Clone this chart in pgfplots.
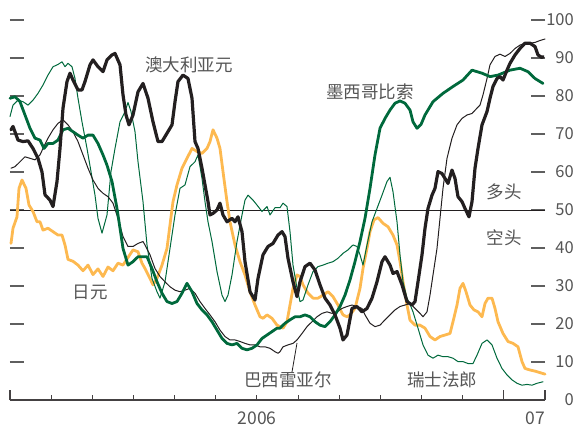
\documentclass[border=0pt]{standalone}
\usepackage{pgfplots}
\pgfplotsset{compat=1.18}
\usepackage{fontspec}
\setmainfont{Noto Sans CJK SC}
\definecolor{ecogreen}{RGB}{0,105,60}
\definecolor{ecoorange}{RGB}{253,185,80}
\definecolor{ecoblack}{RGB}{35,31,32}
\definecolor{txtgray}{RGB}{85,85,85}
\definecolor{tickgray}{RGB}{95,95,95}
\newcommand{\lbl}{\fontsize{17.5bp}{20bp}\selectfont\color{txtgray}}
\begin{document}
\begin{tikzpicture}
\useasboundingbox (-10bp,-25bp) rectangle (568bp,400bp);
\begin{axis}[
  at={(0,0)}, anchor=south west,
  scale only axis, width=535bp, height=380bp,
  xmin=10, xmax=545, ymin=0, ymax=100,
  axis line style={draw=none},
  xtick=\empty,
  ytick={0,10,...,100},
  ytick pos=both, yticklabel pos=right,
  tick align=inside,
  major tick length=14bp,
  ytick style={draw=tickgray, line width=1.3bp},
  yticklabel style={anchor=east, inner sep=0pt, xshift=29bp,
    font=\fontsize{16.5bp}{20bp}\selectfont, text=txtgray},
  /pgf/number format/assume math mode=true,
  clip=false,
  every axis plot/.append style={line join=round, line cap=round},
]
\draw[ecoblack, line width=0.9bp] (axis cs:10,50) -- (axis cs:545,50);

% Yen
\addplot[ecoorange, line width=2.8bp] coordinates {
(11,41.2)(13,45.2)(17,48.2)(19,55.7)(22,57.9)(26,55.7)(29,51.3)(33,49.6)(37,46.9)(40,46.9)(43,44.7)(48,45.2)(53,44.3)(58,43.4)(62,43.4)(65,40.8)(68,37)(73,36.5)(78,35.5)(83,34)(88,35.5)(93,33)(98,34.5)(103,32.5)(108,35)(113,34)(118,36)(123,35.5)(128,37.5)(133,39.5)(138,39)(142,36)(145,34.6)(150,32)(153,30.3)(157,32)(162,35.5)(167,39.9)(170,46.1)(173,52.2)(177,56.6)(182,61)(187,63.6)(192,66.2)(197,65.4)(202,64.9)(207,66.2)(210,68)(213,71.1)(217,68.9)(220,66.2)(223,60.1)(227,52.2)(230,46.9)(235,40.8)(240,36.4)(245,32.9)(250,28.5)(255,25)(260,21.9)(263,21.5)(267,22.4)(272,21.5)(277,19.7)(280,19.3)(283,18.9)(287,20.6)(290,25)(293,29.4)(297,32.9)(300,32.5)(303,30.3)(308,28.1)(313,26.8)(318,26.8)(323,27.6)(328,28.5)(333,27.2)(338,25)(343,22.4)(347,21.9)(350,22.4)(355,24.1)(360,29.4)(363,34.6)(367,39.9)(370,44.3)(374,47.4)(378,48)(383,46.5)(388,45.6)(393,43.4)(397,40.8)(400,36.4)(403,31.1)(407,25)(410,21)(415,19.7)(420,19.7)(425,18.9)(430,16.7)(435,15.8)(440,16.7)(445,17.1)(450,17.5)(453,20.6)(457,25)(460,29.4)(463,30.7)(466,28.5)(470,25)(474,23.7)(478,23.2)(482,21.9)(485,25.4)(488,26.8)(492,26.8)(495,24.1)(498,20.6)(503,17.5)(508,15.4)(513,14.9)(518,14)(522,10.1)(525,8.3)(530,7.9)(535,7.6)(540,7.2)(545,6.8)
};

% Swiss franc
\addplot[ecogreen, line width=1bp] coordinates {
(10,74.6)(13,77.6)(18,78.9)(23,78.5)(28,77.6)(33,78.9)(38,80.7)(43,82.9)(48,85.5)(53,87.7)(58,88.3)(62,89)(65,87.7)(68,88.6)(72,87.7)(75,84.6)(78,79.4)(82,73.2)(87,66.2)(91,60.1)(95,53.9)(98,47.8)(102,43.9)(107,48.7)(111,60.1)(115,66.2)(120,73.2)(125,75.9)(128,78.3)(131,75.9)(135,70.6)(138,62.7)(143,52.2)(147,40.8)(152,32)(157,28.5)(160,26.8)(165,31.1)(170,39.9)(175,48.7)(180,55.7)(185,56.6)(190,61.4)(195,62.7)(198,64.5)(202,58.3)(205,52.2)(208,46.9)(212,41.7)(217,33.8)(222,27.6)(225,25.9)(228,27.6)(232,32.9)(237,41.7)(242,48.7)(245,52.6)(248,53.9)(253,52.6)(257,51.3)(262,49.6)(267,50.9)(270,48.7)(275,50.6)(280,50.6)(283,51.8)(287,50.9)(290,44.3)(293,35.5)(297,29.4)(300,25.9)(303,26.3)(308,30.3)(313,33.8)(318,35.1)(323,35.5)(328,36)(333,36.4)(338,37.3)(343,38.6)(348,39.5)(353,40.8)(357,40.4)(360,38.2)(363,35.5)(367,40.8)(372,46.9)(377,50.4)(382,53.9)(387,57.5)(390,58.6)(393,54.8)(397,46.9)(400,38.2)(403,31.1)(407,26.8)(410,25.2)(413,23.2)(418,18.9)(423,14.5)(428,11.8)(433,11)(438,11.8)(443,11.4)(448,11.4)(453,11)(458,10.1)(463,10.1)(468,9.6)(473,9.6)(477,11.8)(482,14.9)(487,15.8)(492,14.5)(497,11)(502,8.3)(507,6.6)(512,5.3)(517,4.4)(522,3.9)(527,4.1)(532,3.9)(537,4.4)(543,4.8)
};

% Brazilian real
\addplot[ecoblack, line width=1bp] coordinates {
(11,61)(15,61.4)(20,62.7)(25,64)(30,63.6)(35,63.2)(40,64.5)(43,66.2)(48,68.9)(53,71.1)(58,72.8)(63,73.7)(68,72.4)(73,70.6)(78,68)(83,64.5)(88,61)(93,57.9)(98,55.7)(103,54.4)(108,53.5)(113,51.8)(118,47.8)(123,43)(128,40.4)(133,40.4)(138,41.2)(143,41.7)(145,40.8)(150,38.2)(155,34.6)(160,32.5)(165,31.1)(170,29.8)(175,28.9)(180,28.5)(185,28.9)(190,29.4)(195,28.1)(200,25.9)(205,24.1)(210,22.4)(215,20.6)(220,18.4)(225,16.7)(230,15.8)(235,15.8)(240,15.4)(245,14.9)(250,14.5)(255,14.5)(260,14)(265,14)(270,13.6)(275,12.7)(278,12.3)(280,12.7)(283,14)(288,14.5)(293,14.9)(297,15.8)(302,17.5)(307,19.3)(312,20.6)(317,21.9)(322,22.8)(327,23.2)(332,22.8)(337,23.2)(342,24.1)(347,24.6)(352,25)(357,24.6)(362,24.1)(365,22.4)(370,20.2)(375,19.3)(380,19.7)(385,21.1)(390,22.4)(395,23.7)(400,24.6)(405,25)(410,25.4)(415,24.1)(420,22.8)(423,21.9)(427,23.2)(430,27.6)(433,32.9)(437,39.9)(440,47.8)(443,55.7)(447,63.6)(452,68.9)(457,72.4)(462,74.1)(467,75)(472,75.4)(477,76.8)(480,77.6)(483,80.3)(487,84.6)(490,88.2)(495,90.4)(500,91)(505,90.4)(510,91.2)(515,92.5)(520,93.4)(525,93.9)(530,93.9)(535,94.1)(540,94.6)(545,95)
};

% Mexican peso
\addplot[ecogreen, line width=2.8bp] coordinates {
(10,79.4)(15,79.8)(20,78.5)(25,75)(30,71.5)(35,68.9)(40,68.4)(44,66.2)(48,67.5)(53,67.5)(58,68.4)(63,71.1)(68,71.5)(73,70.6)(78,69.7)(83,68.9)(88,69.7)(93,69.7)(98,67.5)(103,64.5)(107,61.8)(112,57.5)(117,50.4)(120,45.2)(123,39.9)(128,35.5)(133,36.4)(138,37.7)(147,37.7)(152,34.6)(157,31.1)(162,28.1)(167,25.9)(172,25.4)(177,25.9)(182,28.1)(187,30.7)(192,28.5)(197,25.4)(202,23.7)(207,22.4)(212,20.6)(217,18.4)(222,16.2)(227,14.9)(232,14.5)(237,14.9)(242,13.6)(247,13.2)(252,13.6)(257,14.5)(262,16.2)(267,17.1)(272,18)(277,18.9)(280,18.9)(285,20.2)(290,21.1)(295,21.9)(300,21.9)(305,22.4)(310,21.9)(315,20.6)(320,19.7)(325,19.3)(330,20.6)(335,22.4)(340,24.6)(345,27.6)(350,31.6)(355,36.4)(360,41.7)(365,47.8)(370,55.7)(375,64.5)(380,71.5)(385,74.1)(390,76.3)(395,78.1)(400,78.7)(405,78.1)(410,76.3)(413,73.2)(417,71.5)(421,72.5)(425,75)(433,78.5)(443,80.7)(453,82.5)(463,84.2)(472,86.8)(482,86)(490,85.1)(498,85.5)(510,86.8)(520,87.3)(528,86.4)(535,84.6)(543,83.3)
};

% Australian dollar
\addplot[ecoblack, line width=3.2bp] coordinates {
(11,71.1)(13,72)(18,68.4)(23,68)(28,68.2)(33,66.2)(38,63.6)(42,60)(45,54)(50,52.6)(53,50.9)(57,57.5)(60,66.2)(63,76.8)(67,83.8)(70,86)(73,84.2)(78,81.6)(82,81.6)(85,83.8)(90,88.2)(93,89.5)(98,87.7)(103,86.4)(107,89.5)(112,90.8)(115,91.2)(120,88.2)(123,80.3)(126,75)(129,72.4)(133,75)(138,81.1)(143,83.3)(148,79.4)(153,73.2)(158,68)(162,68)(167,70.2)(172,72.4)(175,78.5)(178,83.8)(183,85.5)(188,84.6)(192,79.4)(195,68)(198,66.2)(202,61)(205,56.6)(208,52.2)(210,48.7)(213,49.1)(217,50)(220,51.8)(223,48.7)(227,46.9)(232,47.8)(235,46.9)(238,48.2)(242,44.3)(245,36.4)(250,28.5)(255,26.3)(258,32)(263,38.2)(268,40.4)(273,41.2)(278,43.4)(282,44.3)(285,43)(288,37.3)(293,31.1)(297,27.2)(300,31.1)(305,35.1)(310,36)(315,34.2)(320,30.3)(325,26.8)(330,25)(335,22.4)(340,18.9)(343,15.8)(347,17.1)(352,24.1)(357,24.6)(362,23.2)(367,24.1)(372,26.8)(377,31.1)(382,36.4)(385,37.7)(390,35.5)(393,33.3)(397,33.8)(402,30.3)(407,25.9)(412,25)(415,25.9)(418,31.1)(422,38.2)(425,45.2)(428,50.4)(432,53.9)(435,55.7)(438,60.1)(442,59.6)(445,58.3)(448,57)(452,60.5)(455,58.3)(458,53.5)(462,52.2)(465,50.4)(469,48.2)(472,52.2)(475,61)(478,66.2)(482,72.4)(487,75.9)(490,79.4)(493,82.5)(497,84.6)(500,85.1)(503,84.2)(507,86.8)(510,88.6)(515,90.8)(520,92.5)(525,93.9)(530,93.9)(535,93)(538,90.8)(542,90.1)(543,90.4)
};
\end{axis}

% bottom axis and month ticks
\draw[ecoblack!85, line width=1.3bp] (0,0) -- (535bp,0);
\foreach \k in {1,...,11} \draw[ecoblack!85, line width=1.1bp] (\k*41.1538bp,0) -- ++(0,5bp);
\foreach \k in {0,12,13} \draw[ecoblack!85, line width=1.1bp] (\k*41.1538bp,0) -- ++(0,10bp);
\node[font=\lbl] at (247bp,-18bp) {2006};
\node[font=\lbl, anchor=east, inner sep=0pt] at (535bp,-18bp) {07};

% series labels
\node[font=\lbl] at (179bp,335bp) {澳大利亚元};
\node[font=\lbl] at (360bp,308bp) {墨西哥比索};
\node[font=\lbl] at (80bp,108bp) {日元};
\node[font=\lbl] at (278bp,20bp) {巴西雷亚尔};
\node[font=\lbl] at (432bp,20bp) {瑞士法郎};
\node[font=\lbl] at (494bp,208bp) {多头};
\node[font=\lbl] at (494bp,162bp) {空头};
\draw[ecoblack, line width=0.8bp] (282bp,28bp) -- (287bp,57bp);
\end{tikzpicture}
\end{document}
